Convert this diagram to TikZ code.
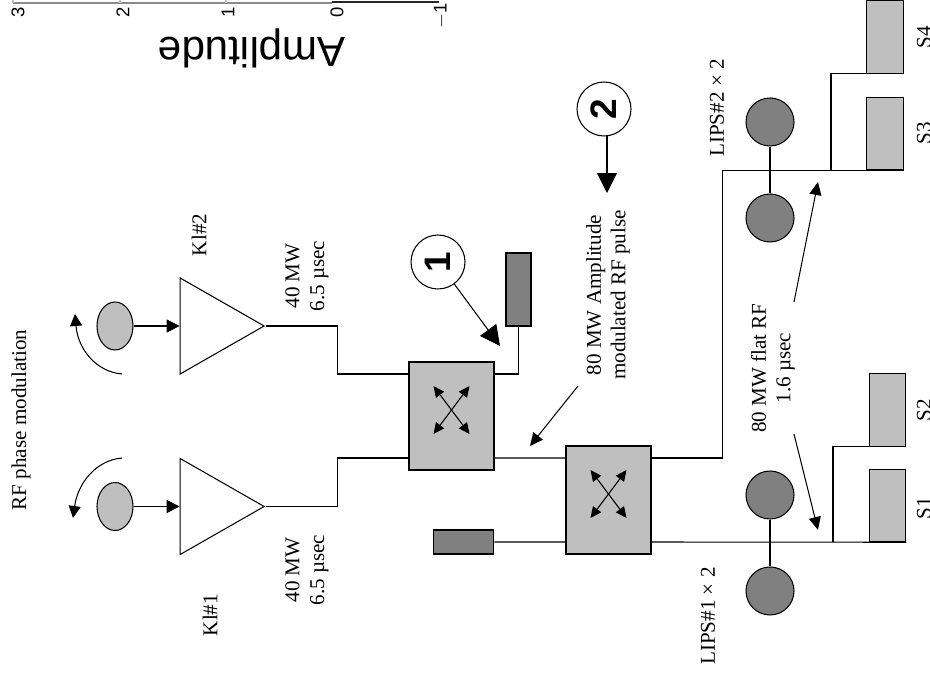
\documentclass[tikz,border=0pt]{standalone}
\usepackage{fontspec}
\setmainfont{Liberation Serif}
\setsansfont{Liberation Sans}
\usepackage{xcolor}
\usetikzlibrary{arrows.meta, shapes, positioning, calc}

\begin{document}
\begin{tikzpicture}[
        x=0.02cm, y=-0.02cm,
        line width=0.6pt,
        node distance=1.92cm,
        label/.style={rotate=90, align=center, font={\fontsize{12}{14}\selectfont}},
        phase/.style={ellipse, draw, fill=black!25, inner sep=0pt, minimum width=0.72cm, minimum height=0.96cm},
        klystron/.style={isosceles triangle, isosceles triangle stretches, draw, inner sep=0pt, minimum width=1.92cm, minimum height=1.68cm, anchor=apex},
        hybrid/.style={rectangle, draw, fill=black!25, inner sep=0pt, minimum width=1.7cm, minimum height=2.16cm},
        dummy/.style={rectangle, draw, fill=black!50, inner sep=0pt},
        lips/.style={circle, draw, fill=black!50, inner sep=0pt, minimum size=0.96cm},
        section/.style={rectangle, draw, fill=black!25, inner sep=0pt, minimum width=0.73cm, minimum height=1.45cm},
        callout/.style={circle, draw, inner sep=0pt, minimum width=1.04cm, minimum height=1.08cm, font={\fontsize{21}{21}\selectfont\sffamily\bfseries}},
        big/.style={-{Triangle[length=0.4cm, width=0.4cm]}},
        arrow/.style={-{Triangle[length=0.26cm, width=0.26cm]}},
        small/.style={{Triangle[length=0.22cm, width=0.2cm]}-{Triangle[length=0.22cm, width=0.2cm]}}
    ]
        \useasboundingbox (0,0) rectangle (930,675);

        % Amplitude plot (cut off at the top)
        \draw [black!45] (13,3) -- (332,3);
        \draw [black!25] (13,0) -- (13,3) (120,0) -- (120,3) (226,0) -- (226,3);
        \draw [black!85, line width=1.4pt] (332,2) -- (439,2);
        \foreach \pos/\tick in {18/3, 123/2, 228/1, 337/0}
            \node (tick\tick) [rotate=90, font={\fontsize{10.5}{12}\selectfont\sffamily}] at (\pos,12) {\tick};
        \node (tickm) [rotate=90, font={\fontsize{10.5}{12}\selectfont\sffamily}] at (441,16) {$-$1};
        \node (amplitude) [rotate=180, font={\fontsize{24}{26}\selectfont\sffamily}] at (252,48) {Amplitude};

        % Klystrons and phase modulators
        \node (phasetwo) [phase] at (115,326) {};
        \node (phaseone) [phase] at (115,506.5) {};
        \node (kltwo) [klystron] at (265.5,326) {};
        \node (klone) [klystron] at (265.5,506.5) {};
        \draw [arrow] (phasetwo) -- (kltwo.west |- phasetwo);
        \draw [arrow] (phaseone) -- (klone.west |- phaseone);

        % Rotation arrows
        \coordinate (rottwo) at (122,374);
        \coordinate (rotone) at (122,458);
        \draw [-{Triangle[length=0.24cm, width=0.24cm]}] (rottwo) .. controls (97,372) and (78,350) .. (75,314);
        \draw [-{Triangle[length=0.24cm, width=0.24cm]}] (rotone) .. controls (97,460) and (78,482) .. (73,518);

        % Hybrids
        \node (hybone) [hybrid] at (451.5,416) {};
        \node (hybtwo) [hybrid] at (608.5,500) {};
        \draw [small] ($(hybone)+(-18,-30)$) -- ($(hybone)+(18,18)$);
        \draw [small] ($(hybone)+(18,-30)$) -- ($(hybone)+(-18,18)$);
        \draw [small] ($(hybtwo)+(-18,-30)$) -- ($(hybtwo)+(18,18)$);
        \draw [small] ($(hybtwo)+(18,-30)$) -- ($(hybtwo)+(-18,18)$);

        % Dummy loads
        \node (loadone) [dummy, minimum width=0.5cm, minimum height=1.46cm] at (518.5,289.5) {};
        \node (loadtwo) [dummy, minimum width=1.21cm, minimum height=0.48cm] at (463.5,542) {};

        % Waveguide from the klystrons
        \draw (kltwo.apex) -- ++(72,0) |- ([yshift=0.84cm]hybone.west);
        \draw (klone.apex) -- ++(72,0) |- ([yshift=-0.84cm]hybone.west);
        \draw (loadone.south) |- ([yshift=0.84cm]hybone.east);
        \draw ([yshift=-0.84cm]hybone.east) -- ([yshift=0.84cm]hybtwo.west);
        \draw (loadtwo.east) -- ([yshift=-0.84cm]hybtwo.west);

        % LIPS and accelerating sections
        \node (sfour) [section] at (885,37) {};
        \node (sthree) [section] at (885,133.5) {};
        \node (stwo) [section] at (887.5,410) {};
        \node (sone) [section] at (887.5,505.5) {};
        \node (lipsa) [lips] at (770,122) {};
        \node (lipsb) [lips, below of=lipsa] {};
        \node (lipsc) [lips] at (770,495) {};
        \node (lipsd) [lips, below of=lipsc] {};
        \draw (lipsa) -- (lipsb);
        \draw (lipsc) -- (lipsd);
        \draw ([yshift=0.84cm]hybtwo.east) -- ++(71,0) |- (sthree.south east);
        \draw ([yshift=-0.84cm]hybtwo.east) -- (sone.south east);
        \coordinate (branchtop) at (831,170);
        \coordinate (branchbot) at (833,542);
        \draw (branchtop) |- (sfour.south east);
        \draw (branchbot) |- (stwo.south east);

        % Callouts
        \node (one) [callout] at (438,262) {\rotatebox{90}{1}};
        \node (two) [callout] at (604,109) {\rotatebox{90}{2}};
        \coordinate (onetip) at (500,346);
        \coordinate (twotip) at (607,193);
        \coordinate (twofoot) at (607,136);
        \draw [big] (one) -- (onetip);
        \draw [big] (twofoot) -- (twotip);

        % Labels and their pointers
        \node (rftext) [label] at (21,420) {RF phase modulation};
        \node (kltwotext) [label] at (199,235) {Kl\#2};
        \node (klonetext) [label] at (210,615) {Kl\#1};
        \node (powertwo) [label] at (307,276) {40 MW\\6.5 µsec};
        \node (powerone) [label] at (307,570) {40 MW\\6.5 µsec};
        \node (amtext) [label] at (608,295) {80 MW Amplitude\\modulated RF pulse};
        \node (flattext) [label] at (773,368) {80 MW flat RF\\1.6 µsec};
        \node (lipstwotext) [label] at (717,108) {LIPS\#2 × 2};
        \node (lipsonetext) [label] at (708,616) {LIPS\#1 × 2};
        \node (sfourtext) [label] at (924,37) {S4};
        \node (sthreetext) [label] at (924,133) {S3};
        \node (stwotext) [label] at (924,410) {S2};
        \node (sonetext) [label] at (924,508) {S1};

        \coordinate (amfoot) at (578,386);
        \coordinate (amtip) at (530,446);
        \coordinate (flatfoota) at (794,302);
        \coordinate (flattipa) at (818,182);
        \coordinate (flatfootb) at (794,434);
        \coordinate (flattipb) at (818,530);
        \draw [-{Triangle[length=0.26cm, width=0.24cm]}] (amfoot) -- (amtip);
        \draw [-{Triangle[length=0.26cm, width=0.24cm]}] (flatfoota) -- (flattipa);
        \draw [-{Triangle[length=0.26cm, width=0.24cm]}] (flatfootb) -- (flattipb);
    \end{tikzpicture}
\end{document}
